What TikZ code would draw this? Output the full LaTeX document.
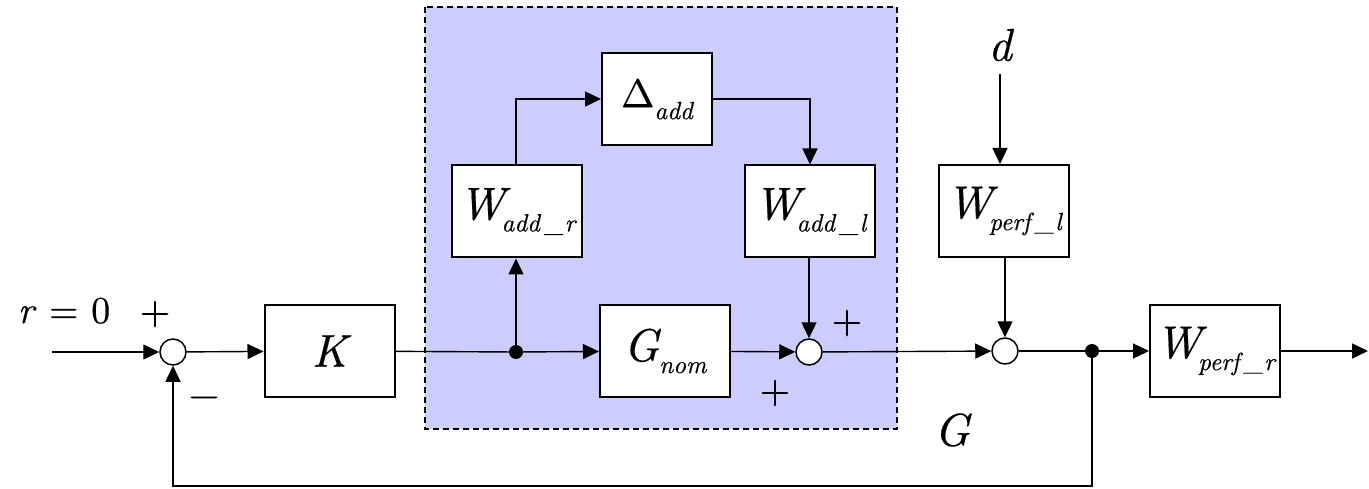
\documentclass[tikz,border=0pt]{standalone}
\usepackage{fontspec}
\IfFontExistsTF{lmroman10-italic.otf}{%
  \newfontfamily\tms{lmroman10-regular.otf}[ItalicFont=lmroman10-italic.otf, FakeBold=0.4, ItalicFeatures={FakeBold=0.4}]}{%
  \newcommand{\tms}{\rmfamily}}
\usetikzlibrary{arrows.meta}
\newcommand{\bigit}[1]{{\tms\fontsize{46}{48}\selectfont\itshape #1}}
\newcommand{\subit}[1]{\raisebox{-12pt}{\tms\fontsize{25}{27}\selectfont\itshape #1}}
\newcommand{\us}{\hspace{0.2em}\_\kern0.05em}
\tikzset{
  blk/.style={draw=black, line width=2pt, fill=white, minimum width=130pt, minimum height=92pt, inner sep=0pt},
  sumj/.style={circle, draw=black, line width=1.5pt, fill=white, minimum size=26pt, inner sep=0pt},
  dotj/.style={circle, fill=black, minimum size=14pt, inner sep=0pt},
  arr/.style={line width=1.4pt, -{Triangle[length=16pt,width=15pt]}},
  ln/.style={line width=1.4pt},
  sgn/.style={font=\tms\fontsize{40}{42}\selectfont, inner sep=0pt}
}
\begin{document}
\begin{tikzpicture}[x=1pt,y=-1pt]
\useasboundingbox (0,0) rectangle (1369,489);
% shaded region
\draw[line width=1.4pt, fill={rgb,255:red,204;green,204;blue,255}, dash pattern=on 6pt off 4pt] (425,7) rectangle (897,429);
% blocks
\node[blk] (K) at (329.5,351) {\bigit{K}};
\node[blk] (Gnom) at (665,351) {\bigit{G}\subit{nom}};
\node[blk] (Wpr) at (1215,351) {\bigit{W}\kern-3pt\subit{perf\us r}};
\node[blk] (Wadr) at (517,211.5) {\bigit{W}\kern-3pt\subit{add\us r}};
\node[blk] (Wadl) at (810,211.5) {\bigit{W}\kern-3pt\subit{add\us l}};
\node[blk, minimum width=110pt] (Delta) at (657,99) {{\tms\fontsize{40}{42}\selectfont Δ}\subit{add}};
\node[blk] (Wpl) at (1004,211) {\bigit{W}\kern-3pt\subit{perf\us l}};
% junctions
\node[sumj] (s1) at (173,352) {};
\node[sumj] (s2) at (809,352) {};
\node[sumj] (s3) at (1005,351) {};
\node[dotj] (d1) at (516,352) {};
\node[dotj] (d2) at (1092,351) {};
% coordinates
\coordinate (in) at (52,352);
\coordinate (out) at (1368,351);
\coordinate (fb) at (1092,486);
% labels
\node[anchor=base, inner sep=0pt] (rlab) at (64,323) {\tms\fontsize{38}{40}\selectfont\textit{r} = 0};
\node[sgn] (p1) at (155,314) {+};
\node[sgn] (m1) at (204,402) {\textminus};
\node[sgn] (p2) at (847,323) {+};
\node[sgn] (p3) at (775,393) {+};
\node[inner sep=0pt] (dlab) at (1000,45) {\bigit{d}};
\node[inner sep=0pt] (Glab) at (952,430) {\bigit{G}};
% connectors
\draw[arr] (in) -- (s1);
\draw[arr] (s1) -- (K);
\draw[ln] (K) -- (d1);
\draw[arr] (d1) -- (Gnom);
\draw[arr] (d1) -- (d1 |- Wadr.south);
\draw[arr] (Wadr.north -| d1) |- (Delta.west);
\draw[arr] (Delta.east) -| (Wadl.north);
\draw[arr] (Wadl.south -| s2) -- (s2);
\draw[arr] (Gnom) -- (s2);
\draw[arr] (s2) -- (s3);
\draw[arr] (dlab.south |- 0,74) -- (dlab.south |- Wpl.north);
\draw[arr] (Wpl.south -| s3) -- (s3);
\draw[ln] (s3) -- (d2);
\draw[arr] (d2) -- (Wpr);
\draw[arr] (Wpr) -- (out);
\draw[arr] (d2) -- (fb) -| (s1);
\end{tikzpicture}
\end{document}
